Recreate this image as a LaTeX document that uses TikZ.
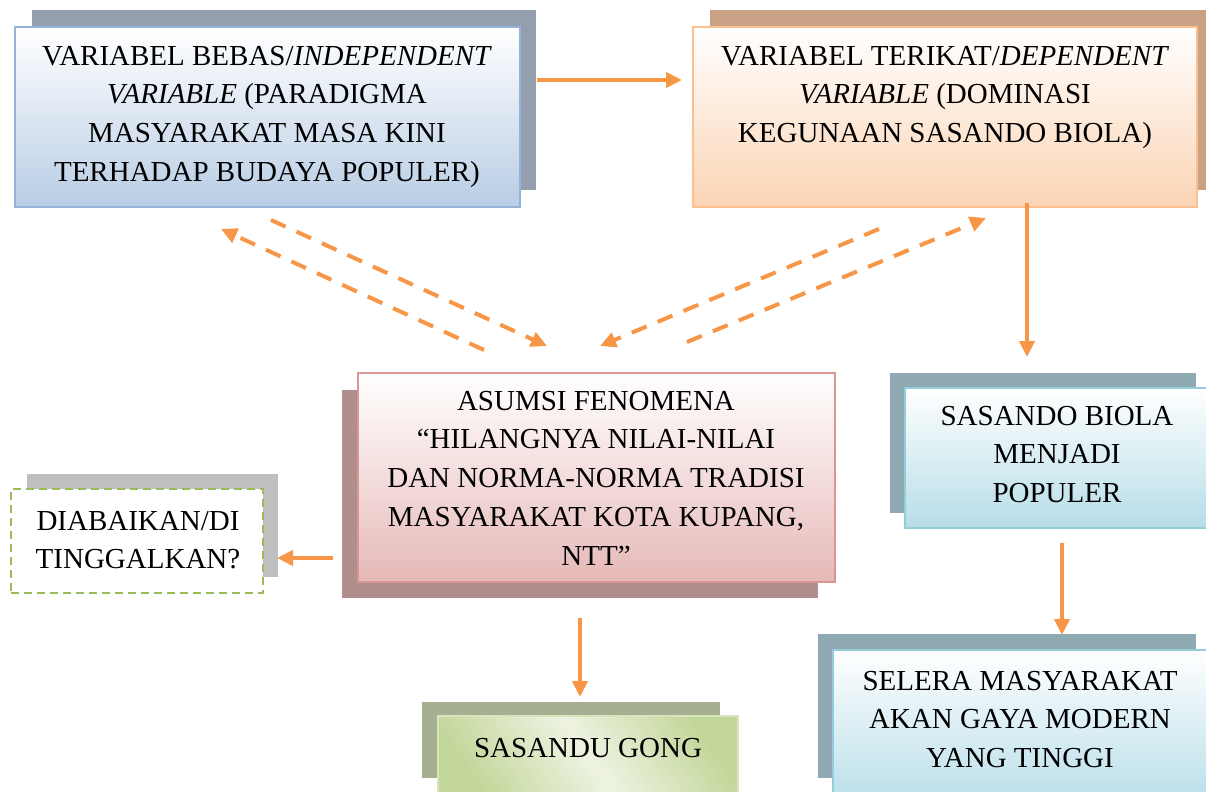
\documentclass[tikz,border=0pt]{standalone}
\usepackage{fontspec}
\setmainfont{Liberation Serif}
\usetikzlibrary{arrows.meta}
\definecolor{arrOrange}{HTML}{F79646}
\definecolor{bluFill}{HTML}{B9CDE5}
\definecolor{bluLine}{HTML}{95B3D7}
\definecolor{bluShadow}{HTML}{939FAE}
\definecolor{orgFill}{HTML}{FBD4B4}
\definecolor{orgLine}{HTML}{FAC090}
\definecolor{orgShadow}{HTML}{C9A184}
\definecolor{redFill}{HTML}{E6B9B8}
\definecolor{redLine}{HTML}{D99694}
\definecolor{redShadow}{HTML}{B08E8E}
\definecolor{aquaFill}{HTML}{B6DDE8}
\definecolor{aquaLine}{HTML}{92CDDC}
\definecolor{aquaShadow}{HTML}{8FAAB3}
\definecolor{grnLine}{HTML}{9BBB59}
\definecolor{grnFill}{HTML}{C4D79B}
\definecolor{grnLight}{HTML}{EEF3E2}
\definecolor{grnBorder}{HTML}{D7E4BD}
\definecolor{olvShadow}{HTML}{A6AF92}
\definecolor{grayShadow}{HTML}{BFBFBF}
\begin{document}
\begin{tikzpicture}[x=0.5pt,y=-0.5pt,
  arr/.style={draw=arrOrange, line width=2pt, -{Triangle[length=8pt,width=7.5pt]}},
  darr/.style={arr, dash pattern=on 8pt off 6pt},
  frontbox/.style={inner sep=0pt, outer sep=0pt, anchor=north west, line width=1pt},
  txt/.style={font=\fontsize{14.5}{19.4}\selectfont, align=center, inner sep=0pt, anchor=north}]
\useasboundingbox (0,0) rectangle (1206,792);
\clip (0,0) rectangle (1206,792);
% shadows
\fill[bluShadow] (32,10) rectangle (536,190);
\fill[orgShadow] (710,10) rectangle (1214,190);
\fill[redShadow] (342,390) rectangle (818,598);
\fill[grayShadow] (27,474) rectangle (278,577);
\fill[aquaShadow] (890,373) rectangle (1196,513);
\fill[aquaShadow] (818,634) rectangle (1196,778);
\fill[olvShadow] (422,702) rectangle (720,778);
% front boxes
\node[frontbox, draw=bluLine, top color=white, bottom color=bluFill, minimum width=252.5pt, minimum height=90pt] (b1) at (15,27) {};
\node[frontbox, draw=orgLine, top color=white, bottom color=orgFill, minimum width=252pt, minimum height=90pt] (b2) at (693,27) {};
\node[frontbox, draw=redLine, top color=white, bottom color=redFill, minimum width=238.5pt, minimum height=104.5pt] (c) at (358,373) {};
\node[frontbox, draw=grnLine, fill=white, dash pattern=on 4pt off 2.5pt, line width=1.25pt, minimum width=126pt, minimum height=52pt] (d) at (11,489) {};
\node[frontbox, draw=aquaLine, top color=white, bottom color=aquaFill, minimum width=160pt, minimum height=70pt] (b3) at (905,388) {};
\node[frontbox, draw=aquaLine, top color=white, bottom color=aquaFill, minimum width=200pt, minimum height=80pt] (b4) at (833,650) {};
\node[frontbox, draw=grnBorder, top color=grnFill, bottom color=grnFill, middle color=grnLight, shading angle=-55, minimum width=150pt, minimum height=40pt] (g) at (438,716) {};
% texts
\node[txt] (t1) at (267,45.5) {VARIABEL BEBAS/\textit{INDEPENDENT}\\\textit{VARIABLE} (PARADIGMA\\MASYARAKAT MASA KINI\\TERHADAP BUDAYA POPULER)};
\node[txt] (t2) at (945,45.5) {VARIABEL TERIKAT/\textit{DEPENDENT}\\\textit{VARIABLE} (DOMINASI\\KEGUNAAN SASANDO BIOLA)};
\node[txt] (tc) at (596,390.5) {ASUMSI FENOMENA\\“HILANGNYA NILAI-NILAI\\DAN NORMA-NORMA TRADISI\\MASYARAKAT KOTA KUPANG,\\NTT”};
\node[txt] (td) at (138,510.5) {DIABAIKAN/DI\\TINGGALKAN?};
\node[txt] (t3) at (1057,405.5) {SASANDO BIOLA\\MENJADI\\POPULER};
\node[txt] (t4) at (1020,670.5) {SELERA MASYARAKAT\\AKAN GAYA MODERN\\YANG TINGGI};
\node[txt] (tg) at (588,737.5) {SASANDU GONG};
% solid connectors
\draw[arr] ([shift={(17,53)}]b1.north east) -- ([shift={(-11,53)}]b2.north west);
\draw[arr] ([shift={(334,-4)}]b2.south west) -- ([shift={(122,-31)}]b3.north west);
\draw[arr] ([shift={(157,15)}]b3.south west) -- ([shift={(229,-15)}]b4.north west);
\draw[arr] ([shift={(-25,185)}]c.north west) -- ([shift={(14,69)}]d.north east);
\draw[arr] ([shift={(222,36)}]c.south west) -- ([shift={(142,-19)}]g.north west);
% dashed connectors
\draw[darr] ([shift={(256,13)}]b1.south west) -- ([shift={(189,-27)}]c.north west);
\draw[darr] ([shift={(126,-23)}]c.north west) -- ([shift={(206,22)}]b1.south west);
\draw[darr] ([shift={(186,22)}]b2.south west) -- ([shift={(242,-27)}]c.north west);
\draw[darr] ([shift={(329,-31)}]c.north west) -- ([shift={(293,11)}]b2.south west);
\end{tikzpicture}
\end{document}
